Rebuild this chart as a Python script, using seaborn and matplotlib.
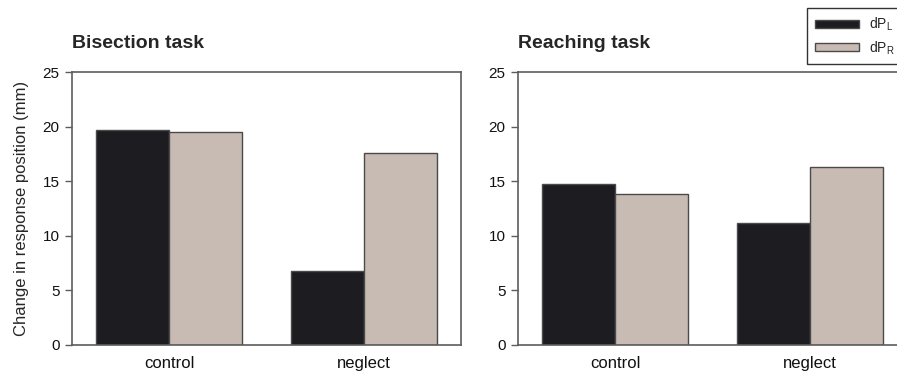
import matplotlib
matplotlib.use("Agg")
import matplotlib.pyplot as plt
import seaborn as sns
import pandas as pd
from matplotlib.patches import Patch

# Mean change in response position (mm) per group and measure
groups = ["control", "neglect"]
measures = ["dPL", "dPR"]
bisection_dPL = [19.7, 6.8]
bisection_dPR = [19.5, 17.6]
reaching_dPL = [14.7, 11.2]
reaching_dPR = [13.8, 16.3]

legend_labels = [r"dP$_\mathregular{L}$", r"dP$_\mathregular{R}$"]
titles = ["Bisection task", "Reaching task"]
ylabel = "Change in response position (mm)"
yticks = [0, 5, 10, 15, 20, 25]

bar_colors = ["#1d1c21", "#c8bbb3"]
edge_color = "#4a4a4a"
spine_color = "#5c5c5c"


def long_table(dpl, dpr):
    rows = []
    for g, a, b in zip(groups, dpl, dpr):
        rows.append({"group": g, "measure": "dPL", "value": a})
        rows.append({"group": g, "measure": "dPR", "value": b})
    return pd.DataFrame(rows)


sns.set_theme(style="white")
plt.rcParams["font.family"] = ["Liberation Sans", "DejaVu Sans"]
plt.rcParams["mathtext.fontset"] = "custom"
plt.rcParams["mathtext.rm"] = "Liberation Sans"

W, H = 897, 376
fig = plt.figure(figsize=(W / 100, H / 100), dpi=100)

panels = [
    (long_table(bisection_dPL, bisection_dPR), 72),
    (long_table(reaching_dPL, reaching_dPR), 518),
]
ax_w = 389
ax_top, ax_bottom = 72, 345

axes = []
for i, (df, left) in enumerate(panels):
    ax = fig.add_axes([left / W, 1 - ax_bottom / H, ax_w / W, (ax_bottom - ax_top) / H])
    sns.barplot(
        data=df, x="group", y="value", hue="measure",
        order=groups, hue_order=measures,
        palette=bar_colors, saturation=1, width=0.75,
        edgecolor=edge_color, linewidth=1.0,
        errorbar=None, legend=False, ax=ax,
    )
    ax.set_xlim(-0.5, 1.5)
    ax.set_ylim(0, 25)
    ax.set_yticks(yticks)
    ax.set_xlabel("")
    ax.set_ylabel(ylabel if i == 0 else "", fontsize=12, labelpad=10)
    ax.set_title(titles[i], loc="left", fontsize=14, fontweight="bold", pad=17)
    for s in ax.spines.values():
        s.set_visible(True)
        s.set_color(spine_color)
        s.set_linewidth(1.2)
    ax.tick_params(axis="y", which="both", left=True, length=5, width=1.0,
                   color=spine_color, pad=4, labelsize=11, labelcolor="#111111")
    ax.tick_params(axis="x", bottom=False, pad=2, labelsize=12, labelcolor="#111111")
    ax.grid(False)
    axes.append(ax)

handles = [Patch(facecolor=c, edgecolor=edge_color, linewidth=1.0) for c in bar_colors]
leg = fig.legend(
    handles, legend_labels, loc="upper left",
    bbox_to_anchor=(807 / W, 1 - 8 / H), bbox_transform=fig.transFigure,
    fontsize=10, frameon=True, fancybox=False, framealpha=1,
    handlelength=3.2, handleheight=0.5, handletextpad=0.7,
    labelspacing=0.45, borderpad=0.55, borderaxespad=0,
)
leg.get_frame().set_edgecolor("#333333")
leg.get_frame().set_linewidth(1.0)

fig.savefig("out.png", dpi=100)
